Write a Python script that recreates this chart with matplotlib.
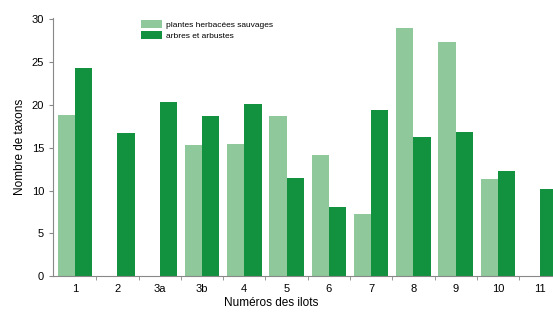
import numpy as np
import matplotlib
matplotlib.use('Agg')
import matplotlib.pyplot as plt

# données
ilots = ['1', '2', '3a', '3b', '4', '5', '6', '7', '8', '9', '10', '11']
herbacees = [18.8, 0, 0, 15.3, 15.5, 18.7, 14.2, 7.3, 29.0, 27.4, 11.4, 0]
arbres = [24.3, 16.7, 20.3, 18.7, 20.1, 11.5, 8.1, 19.4, 16.3, 16.9, 12.3, 10.2]

c_clair = '#8fc89a'
c_fonce = '#12913e'

plt.rcParams['font.family'] = ['Liberation Sans', 'DejaVu Sans']

fig = plt.figure(figsize=(5.53, 3.17), dpi=100)
ax = fig.add_axes([0.096, 0.129, 0.904, 0.815])

x = np.arange(len(ilots))
w = 0.41
ax.bar(x - w / 2, herbacees, w, color=c_clair, label='plantes herbacées sauvages')
ax.bar(x + w / 2, arbres, w, color=c_fonce, label='arbres et arbustes')

ax.set_xlim(-0.52, 11.3)
ax.set_ylim(0, 30.2)
ax.set_yticks([0, 5, 10, 15, 20, 25, 30])
ax.set_xticks(x)
ax.set_xticklabels(ilots)
ax.set_xticks(x[:-1] + 0.5, minor=True)
ax.tick_params(axis='x', which='major', length=0, labelsize=8, pad=6)
ax.tick_params(axis='x', which='minor', length=3, color='#888888')
ax.tick_params(axis='y', labelsize=8, length=3, color='#888888')

for s in ['top', 'right']:
    ax.spines[s].set_visible(False)
ax.spines['left'].set_color('#888888')
ax.spines['bottom'].set_color('#888888')

ax.set_ylabel('Nombre de taxons', fontsize=8.5)
ax.set_xlabel('Numéros des ilots', fontsize=8.5, labelpad=2)
ax.xaxis.label.set_x(0.436)

ax.legend(loc='upper left', bbox_to_anchor=(0.16, 1.02), frameon=False,
          fontsize=6, handlelength=2.6, handleheight=1.0, labelspacing=0.3,
          handletextpad=0.5)

fig.savefig('out.png', dpi=100)
